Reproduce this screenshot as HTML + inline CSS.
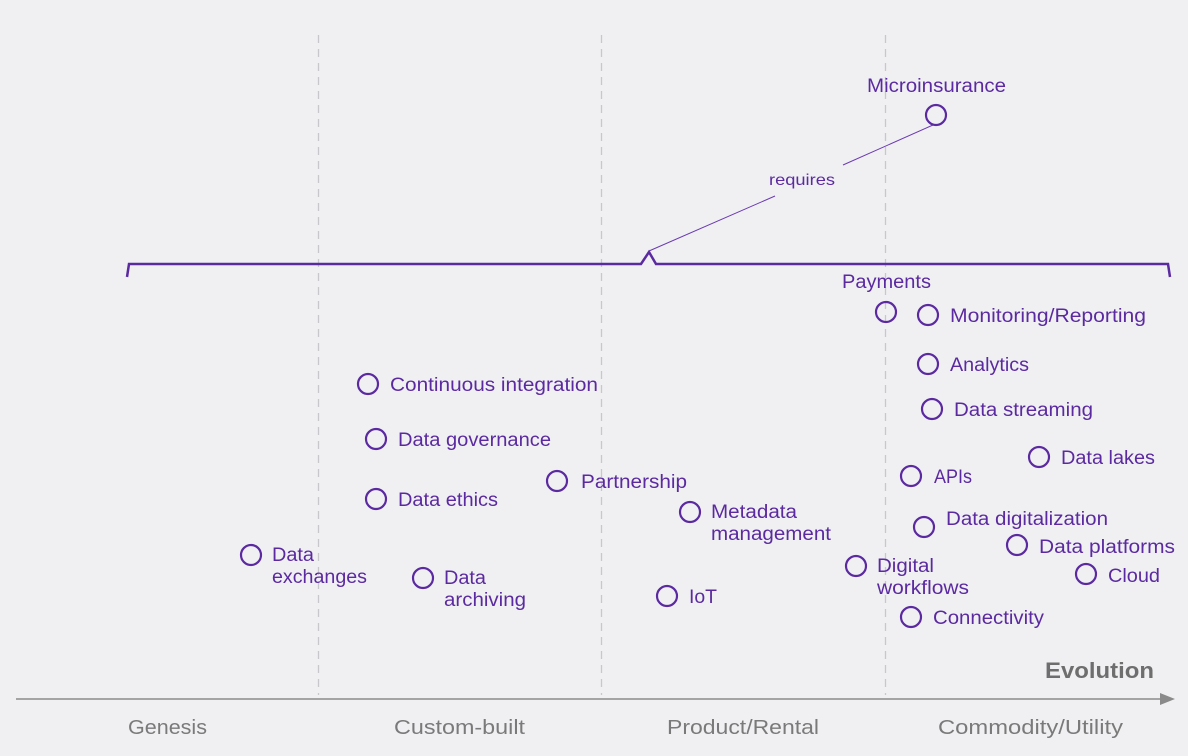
<!DOCTYPE html>
<html>
<head>
<meta charset="utf-8">
<style>
html,body{margin:0;padding:0;background:#f0f0f3;}
svg{display:block;}
text{font-family:"Liberation Sans",sans-serif;}
.l{fill:#5b2aa0;font-size:19px;}
.c{fill:none;stroke:#5b2aa0;stroke-width:2.2;}
.s{fill:#7a7a7a;font-size:20.5px;}
</style>
</head>
<body>
<svg width="1188" height="756" viewBox="0 0 1188 756" xmlns="http://www.w3.org/2000/svg">
<rect width="1188" height="756" fill="#f0f0f3"/>
<g stroke="#c8c8cc" stroke-width="1.3" stroke-dasharray="8,6">
<line x1="318.5" y1="35" x2="318.5" y2="695"/>
<line x1="601.5" y1="35" x2="601.5" y2="695"/>
<line x1="885.5" y1="35" x2="885.5" y2="695"/>
</g>
<line x1="16" y1="699" x2="1162" y2="699" stroke="#8a8a8a" stroke-width="1.5"/>
<polygon points="1160,693 1175,699 1160,705" fill="#8a8a8a"/>
<text x="1045" y="678" textLength="109" lengthAdjust="spacingAndGlyphs" style="font-size:22.5px;font-weight:bold;fill:#6e6e6e;">Evolution</text>
<text class="s" x="128" y="734" textLength="79" lengthAdjust="spacingAndGlyphs">Genesis</text>
<text class="s" x="394" y="734" textLength="131" lengthAdjust="spacingAndGlyphs">Custom-built</text>
<text class="s" x="667" y="734" textLength="152" lengthAdjust="spacingAndGlyphs">Product/Rental</text>
<text class="s" x="938" y="734" textLength="185" lengthAdjust="spacingAndGlyphs">Commodity/Utility</text>
<polyline points="127,277 129,264 641,264 649,252 656,264 1168,264 1170,277" fill="none" stroke="#5b2aa0" stroke-width="2.5" stroke-linejoin="miter"/>
<line x1="649" y1="251" x2="775" y2="196" stroke="#6a3ab0" stroke-width="1"/>
<line x1="843" y1="165" x2="933" y2="125" stroke="#6a3ab0" stroke-width="1"/>
<text class="l" x="769" y="185" textLength="66" lengthAdjust="spacingAndGlyphs" style="font-size:16px;">requires</text>
<circle class="c" cx="936" cy="115" r="10"/>
<text class="l" x="867" y="92" textLength="139" lengthAdjust="spacingAndGlyphs">Microinsurance</text>
<circle class="c" cx="886" cy="312" r="10"/>
<text class="l" x="842" y="288" textLength="89" lengthAdjust="spacingAndGlyphs">Payments</text>
<circle class="c" cx="928" cy="315" r="10"/>
<text class="l" x="950" y="322" textLength="196" lengthAdjust="spacingAndGlyphs">Monitoring/Reporting</text>
<circle class="c" cx="928" cy="364" r="10"/>
<text class="l" x="950" y="371" textLength="79" lengthAdjust="spacingAndGlyphs">Analytics</text>
<circle class="c" cx="932" cy="409" r="10"/>
<text class="l" x="954" y="416" textLength="139" lengthAdjust="spacingAndGlyphs">Data streaming</text>
<circle class="c" cx="1039" cy="457" r="10"/>
<text class="l" x="1061" y="464" textLength="94" lengthAdjust="spacingAndGlyphs">Data lakes</text>
<circle class="c" cx="911" cy="476" r="10"/>
<text class="l" x="934" y="483" textLength="38" lengthAdjust="spacingAndGlyphs">APIs</text>
<circle class="c" cx="924" cy="527" r="10"/>
<text class="l" x="946" y="525" textLength="162" lengthAdjust="spacingAndGlyphs">Data digitalization</text>
<circle class="c" cx="1017" cy="545" r="10"/>
<text class="l" x="1039" y="553" textLength="136" lengthAdjust="spacingAndGlyphs">Data platforms</text>
<circle class="c" cx="1086" cy="574" r="10"/>
<text class="l" x="1108" y="582" textLength="52" lengthAdjust="spacingAndGlyphs">Cloud</text>
<circle class="c" cx="856" cy="566" r="10"/>
<text class="l" x="877" y="572" textLength="57" lengthAdjust="spacingAndGlyphs">Digital</text>
<text class="l" x="877" y="594" textLength="92" lengthAdjust="spacingAndGlyphs">workflows</text>
<circle class="c" cx="911" cy="617" r="10"/>
<text class="l" x="933" y="624" textLength="111" lengthAdjust="spacingAndGlyphs">Connectivity</text>
<circle class="c" cx="368" cy="384" r="10"/>
<text class="l" x="390" y="391" textLength="208" lengthAdjust="spacingAndGlyphs">Continuous integration</text>
<circle class="c" cx="376" cy="439" r="10"/>
<text class="l" x="398" y="446" textLength="153" lengthAdjust="spacingAndGlyphs">Data governance</text>
<circle class="c" cx="376" cy="499" r="10"/>
<text class="l" x="398" y="506" textLength="100" lengthAdjust="spacingAndGlyphs">Data ethics</text>
<circle class="c" cx="557" cy="481" r="10"/>
<text class="l" x="581" y="488" textLength="106" lengthAdjust="spacingAndGlyphs">Partnership</text>
<circle class="c" cx="690" cy="512" r="10"/>
<text class="l" x="711" y="518" textLength="86" lengthAdjust="spacingAndGlyphs">Metadata</text>
<text class="l" x="711" y="540" textLength="120" lengthAdjust="spacingAndGlyphs">management</text>
<circle class="c" cx="667" cy="596" r="10"/>
<text class="l" x="689" y="603" textLength="28" lengthAdjust="spacingAndGlyphs">IoT</text>
<circle class="c" cx="251" cy="555" r="10"/>
<text class="l" x="272" y="561" textLength="42" lengthAdjust="spacingAndGlyphs">Data</text>
<text class="l" x="272" y="583" textLength="95" lengthAdjust="spacingAndGlyphs">exchanges</text>
<circle class="c" cx="423" cy="578" r="10"/>
<text class="l" x="444" y="584" textLength="42" lengthAdjust="spacingAndGlyphs">Data</text>
<text class="l" x="444" y="606" textLength="82" lengthAdjust="spacingAndGlyphs">archiving</text>
</svg>
</body>
</html>
